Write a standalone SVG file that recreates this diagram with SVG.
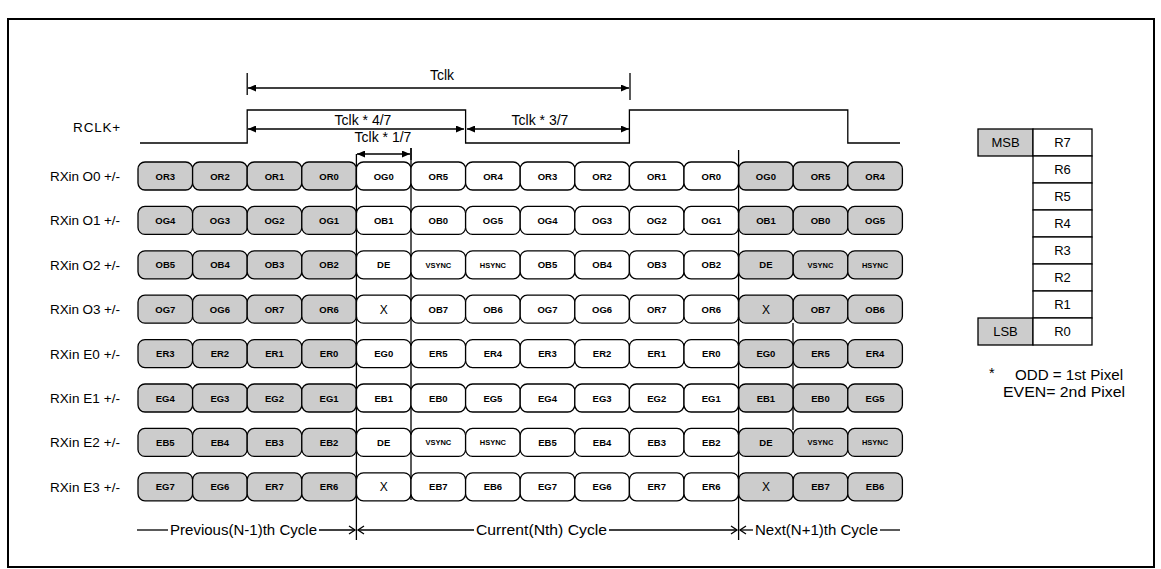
<svg xmlns="http://www.w3.org/2000/svg" width="1161" height="569" viewBox="0 0 1161 569">
<defs>
<style>
.s{fill:#cccccc;stroke:#000;stroke-width:1.3}
.w{fill:#fff;stroke:#000;stroke-width:1.3}
.t{font-family:"Liberation Sans",Arial,sans-serif;font-weight:bold;font-size:9.5px;text-anchor:middle;fill:#000}
.ts{font-family:"Liberation Sans",Arial,sans-serif;font-weight:bold;font-size:7.5px;text-anchor:middle;fill:#000}
.tx{font-family:"Liberation Sans",Arial,sans-serif;font-size:12px;text-anchor:middle;fill:#000}
.lbl{font-family:"Liberation Sans",Arial,sans-serif;font-size:13.5px;fill:#000}
.cy{font-family:"Liberation Sans",Arial,sans-serif;font-size:14.5px;fill:#000}
.tc{font-family:"Liberation Sans",Arial,sans-serif;font-size:14px;fill:#000;text-anchor:middle}
.ln{stroke:#000;stroke-width:1.3;fill:none}
.tb{fill:#fff;stroke:#000;stroke-width:1.3}
.tbs{fill:#cccccc;stroke:#000;stroke-width:1.3}
.tt{font-family:"Liberation Sans",Arial,sans-serif;font-size:13px;text-anchor:middle;fill:#000}
</style>
<marker id="ah" viewBox="0 0 8 7" refX="8" refY="3.5" markerWidth="8" markerHeight="7" markerUnits="userSpaceOnUse" orient="auto-start-reverse">
<path d="M0,0 L8,3.5 L0,7 z" fill="#000"/>
</marker>
</defs>
<rect x="8" y="19" width="1146" height="548" fill="#fff" stroke="#000" stroke-width="2"/>

<g id="connectors">
<line class="ln" x1="411" y1="148" x2="411" y2="500"/>
<line class="ln" x1="793" y1="323" x2="793" y2="430"/>
</g>

<g id="rclk">
<text class="lbl" x="121" y="131.5" font-size="14.5" letter-spacing="0.8" text-anchor="end">RCLK+</text>
<polyline class="ln" stroke-width="1.5" points="140,143 247.2,143 247.2,110 465.6,110 465.6,143 629.4,143 629.4,110 847.8,110 847.8,143 900,143"/>
</g>

<g id="timing">
<line class="ln" x1="247.2" y1="73" x2="247.2" y2="95"/>
<line class="ln" x1="630" y1="73" x2="630" y2="100"/>
<line class="ln" x1="248" y1="88" x2="629" y2="88" marker-start="url(#ah)" marker-end="url(#ah)"/>
<text class="tc" x="442" y="80">Tclk</text>
<line class="ln" x1="248" y1="129" x2="464" y2="129" marker-start="url(#ah)" marker-end="url(#ah)"/>
<text class="tc" x="363" y="125">Tclk * 4/7</text>
<line class="ln" x1="467" y1="129" x2="629" y2="129" marker-start="url(#ah)" marker-end="url(#ah)"/>
<text class="tc" x="540" y="125">Tclk * 3/7</text>
<text class="tc" x="383" y="142">Tclk * 1/7</text>
<line class="ln" x1="357" y1="154" x2="410" y2="154" marker-start="url(#ah)" marker-end="url(#ah)"/>
<line class="ln" x1="411" y1="148" x2="411" y2="160"/>
</g>

<g id="row-o0">
<text class="lbl" x="50" y="181" textLength="70" lengthAdjust="spacing">RXin O0 +/-</text>
<g transform="translate(0,162)">
<g id="o0-0"><rect class="s" x="138" width="54.6" height="28" rx="7"/><text class="t" x="165.3" y="17.5">OR3</text></g>
<g id="o0-1"><rect class="s" x="192.6" width="54.6" height="28" rx="7"/><text class="t" x="219.9" y="17.5">OR2</text></g>
<g id="o0-2"><rect class="s" x="247.2" width="54.6" height="28" rx="7"/><text class="t" x="274.5" y="17.5">OR1</text></g>
<g id="o0-3"><rect class="s" x="301.8" width="54.6" height="28" rx="7"/><text class="t" x="329.1" y="17.5">OR0</text></g>
<g id="o0-4"><rect class="w" x="356.4" width="54.6" height="28" rx="7"/><text class="t" x="383.7" y="17.5">OG0</text></g>
<g id="o0-5"><rect class="w" x="411" width="54.6" height="28" rx="7"/><text class="t" x="438.3" y="17.5">OR5</text></g>
<g id="o0-6"><rect class="w" x="465.6" width="54.6" height="28" rx="7"/><text class="t" x="492.9" y="17.5">OR4</text></g>
<g id="o0-7"><rect class="w" x="520.2" width="54.6" height="28" rx="7"/><text class="t" x="547.5" y="17.5">OR3</text></g>
<g id="o0-8"><rect class="w" x="574.8" width="54.6" height="28" rx="7"/><text class="t" x="602.1" y="17.5">OR2</text></g>
<g id="o0-9"><rect class="w" x="629.4" width="54.6" height="28" rx="7"/><text class="t" x="656.7" y="17.5">OR1</text></g>
<g id="o0-10"><rect class="w" x="684" width="54.6" height="28" rx="7"/><text class="t" x="711.3" y="17.5">OR0</text></g>
<g id="o0-11"><rect class="s" x="738.6" width="54.6" height="28" rx="7"/><text class="t" x="765.9" y="17.5">OG0</text></g>
<g id="o0-12"><rect class="s" x="793.2" width="54.6" height="28" rx="7"/><text class="t" x="820.5" y="17.5">OR5</text></g>
<g id="o0-13"><rect class="s" x="847.8" width="54.6" height="28" rx="7"/><text class="t" x="875.1" y="17.5">OR4</text></g>
</g></g>

<g id="row-o1">
<text class="lbl" x="50" y="225.4" textLength="70" lengthAdjust="spacing">RXin O1 +/-</text>
<g transform="translate(0,206.4)">
<g id="o1-0"><rect class="s" x="138" width="54.6" height="28" rx="7"/><text class="t" x="165.3" y="17.5">OG4</text></g>
<g id="o1-1"><rect class="s" x="192.6" width="54.6" height="28" rx="7"/><text class="t" x="219.9" y="17.5">OG3</text></g>
<g id="o1-2"><rect class="s" x="247.2" width="54.6" height="28" rx="7"/><text class="t" x="274.5" y="17.5">OG2</text></g>
<g id="o1-3"><rect class="s" x="301.8" width="54.6" height="28" rx="7"/><text class="t" x="329.1" y="17.5">OG1</text></g>
<g id="o1-4"><rect class="w" x="356.4" width="54.6" height="28" rx="7"/><text class="t" x="383.7" y="17.5">OB1</text></g>
<g id="o1-5"><rect class="w" x="411" width="54.6" height="28" rx="7"/><text class="t" x="438.3" y="17.5">OB0</text></g>
<g id="o1-6"><rect class="w" x="465.6" width="54.6" height="28" rx="7"/><text class="t" x="492.9" y="17.5">OG5</text></g>
<g id="o1-7"><rect class="w" x="520.2" width="54.6" height="28" rx="7"/><text class="t" x="547.5" y="17.5">OG4</text></g>
<g id="o1-8"><rect class="w" x="574.8" width="54.6" height="28" rx="7"/><text class="t" x="602.1" y="17.5">OG3</text></g>
<g id="o1-9"><rect class="w" x="629.4" width="54.6" height="28" rx="7"/><text class="t" x="656.7" y="17.5">OG2</text></g>
<g id="o1-10"><rect class="w" x="684" width="54.6" height="28" rx="7"/><text class="t" x="711.3" y="17.5">OG1</text></g>
<g id="o1-11"><rect class="s" x="738.6" width="54.6" height="28" rx="7"/><text class="t" x="765.9" y="17.5">OB1</text></g>
<g id="o1-12"><rect class="s" x="793.2" width="54.6" height="28" rx="7"/><text class="t" x="820.5" y="17.5">OB0</text></g>
<g id="o1-13"><rect class="s" x="847.8" width="54.6" height="28" rx="7"/><text class="t" x="875.1" y="17.5">OG5</text></g>
</g></g>

<g id="row-o2">
<text class="lbl" x="50" y="269.8" textLength="70" lengthAdjust="spacing">RXin O2 +/-</text>
<g transform="translate(0,250.8)">
<g id="o2-0"><rect class="s" x="138" width="54.6" height="28" rx="7"/><text class="t" x="165.3" y="17.5">OB5</text></g>
<g id="o2-1"><rect class="s" x="192.6" width="54.6" height="28" rx="7"/><text class="t" x="219.9" y="17.5">OB4</text></g>
<g id="o2-2"><rect class="s" x="247.2" width="54.6" height="28" rx="7"/><text class="t" x="274.5" y="17.5">OB3</text></g>
<g id="o2-3"><rect class="s" x="301.8" width="54.6" height="28" rx="7"/><text class="t" x="329.1" y="17.5">OB2</text></g>
<g id="o2-4"><rect class="w" x="356.4" width="54.6" height="28" rx="7"/><text class="t" x="383.7" y="17.5">DE</text></g>
<g id="o2-5"><rect class="w" x="411" width="54.6" height="28" rx="7"/><text class="ts" x="438.3" y="17">VSYNC</text></g>
<g id="o2-6"><rect class="w" x="465.6" width="54.6" height="28" rx="7"/><text class="ts" x="492.9" y="17">HSYNC</text></g>
<g id="o2-7"><rect class="w" x="520.2" width="54.6" height="28" rx="7"/><text class="t" x="547.5" y="17.5">OB5</text></g>
<g id="o2-8"><rect class="w" x="574.8" width="54.6" height="28" rx="7"/><text class="t" x="602.1" y="17.5">OB4</text></g>
<g id="o2-9"><rect class="w" x="629.4" width="54.6" height="28" rx="7"/><text class="t" x="656.7" y="17.5">OB3</text></g>
<g id="o2-10"><rect class="w" x="684" width="54.6" height="28" rx="7"/><text class="t" x="711.3" y="17.5">OB2</text></g>
<g id="o2-11"><rect class="s" x="738.6" width="54.6" height="28" rx="7"/><text class="t" x="765.9" y="17.5">DE</text></g>
<g id="o2-12"><rect class="s" x="793.2" width="54.6" height="28" rx="7"/><text class="ts" x="820.5" y="17">VSYNC</text></g>
<g id="o2-13"><rect class="s" x="847.8" width="54.6" height="28" rx="7"/><text class="ts" x="875.1" y="17">HSYNC</text></g>
</g></g>

<g id="row-o3">
<text class="lbl" x="50" y="314.2" textLength="70" lengthAdjust="spacing">RXin O3 +/-</text>
<g transform="translate(0,295.2)">
<g id="o3-0"><rect class="s" x="138" width="54.6" height="28" rx="7"/><text class="t" x="165.3" y="17.5">OG7</text></g>
<g id="o3-1"><rect class="s" x="192.6" width="54.6" height="28" rx="7"/><text class="t" x="219.9" y="17.5">OG6</text></g>
<g id="o3-2"><rect class="s" x="247.2" width="54.6" height="28" rx="7"/><text class="t" x="274.5" y="17.5">OR7</text></g>
<g id="o3-3"><rect class="s" x="301.8" width="54.6" height="28" rx="7"/><text class="t" x="329.1" y="17.5">OR6</text></g>
<g id="o3-4"><rect class="w" x="356.4" width="54.6" height="28" rx="7"/><text class="tx" x="383.7" y="18.5">X</text></g>
<g id="o3-5"><rect class="w" x="411" width="54.6" height="28" rx="7"/><text class="t" x="438.3" y="17.5">OB7</text></g>
<g id="o3-6"><rect class="w" x="465.6" width="54.6" height="28" rx="7"/><text class="t" x="492.9" y="17.5">OB6</text></g>
<g id="o3-7"><rect class="w" x="520.2" width="54.6" height="28" rx="7"/><text class="t" x="547.5" y="17.5">OG7</text></g>
<g id="o3-8"><rect class="w" x="574.8" width="54.6" height="28" rx="7"/><text class="t" x="602.1" y="17.5">OG6</text></g>
<g id="o3-9"><rect class="w" x="629.4" width="54.6" height="28" rx="7"/><text class="t" x="656.7" y="17.5">OR7</text></g>
<g id="o3-10"><rect class="w" x="684" width="54.6" height="28" rx="7"/><text class="t" x="711.3" y="17.5">OR6</text></g>
<g id="o3-11"><rect class="s" x="738.6" width="54.6" height="28" rx="7"/><text class="tx" x="765.9" y="18.5">X</text></g>
<g id="o3-12"><rect class="s" x="793.2" width="54.6" height="28" rx="7"/><text class="t" x="820.5" y="17.5">OB7</text></g>
<g id="o3-13"><rect class="s" x="847.8" width="54.6" height="28" rx="7"/><text class="t" x="875.1" y="17.5">OB6</text></g>
</g></g>

<g id="row-e0">
<text class="lbl" x="50" y="358.6" textLength="70" lengthAdjust="spacing">RXin E0 +/-</text>
<g transform="translate(0,339.6)">
<g id="e0-0"><rect class="s" x="138" width="54.6" height="28" rx="7"/><text class="t" x="165.3" y="17.5">ER3</text></g>
<g id="e0-1"><rect class="s" x="192.6" width="54.6" height="28" rx="7"/><text class="t" x="219.9" y="17.5">ER2</text></g>
<g id="e0-2"><rect class="s" x="247.2" width="54.6" height="28" rx="7"/><text class="t" x="274.5" y="17.5">ER1</text></g>
<g id="e0-3"><rect class="s" x="301.8" width="54.6" height="28" rx="7"/><text class="t" x="329.1" y="17.5">ER0</text></g>
<g id="e0-4"><rect class="w" x="356.4" width="54.6" height="28" rx="7"/><text class="t" x="383.7" y="17.5">EG0</text></g>
<g id="e0-5"><rect class="w" x="411" width="54.6" height="28" rx="7"/><text class="t" x="438.3" y="17.5">ER5</text></g>
<g id="e0-6"><rect class="w" x="465.6" width="54.6" height="28" rx="7"/><text class="t" x="492.9" y="17.5">ER4</text></g>
<g id="e0-7"><rect class="w" x="520.2" width="54.6" height="28" rx="7"/><text class="t" x="547.5" y="17.5">ER3</text></g>
<g id="e0-8"><rect class="w" x="574.8" width="54.6" height="28" rx="7"/><text class="t" x="602.1" y="17.5">ER2</text></g>
<g id="e0-9"><rect class="w" x="629.4" width="54.6" height="28" rx="7"/><text class="t" x="656.7" y="17.5">ER1</text></g>
<g id="e0-10"><rect class="w" x="684" width="54.6" height="28" rx="7"/><text class="t" x="711.3" y="17.5">ER0</text></g>
<g id="e0-11"><rect class="s" x="738.6" width="54.6" height="28" rx="7"/><text class="t" x="765.9" y="17.5">EG0</text></g>
<g id="e0-12"><rect class="s" x="793.2" width="54.6" height="28" rx="7"/><text class="t" x="820.5" y="17.5">ER5</text></g>
<g id="e0-13"><rect class="s" x="847.8" width="54.6" height="28" rx="7"/><text class="t" x="875.1" y="17.5">ER4</text></g>
</g></g>

<g id="row-e1">
<text class="lbl" x="50" y="403" textLength="70" lengthAdjust="spacing">RXin E1 +/-</text>
<g transform="translate(0,384)">
<g id="e1-0"><rect class="s" x="138" width="54.6" height="28" rx="7"/><text class="t" x="165.3" y="17.5">EG4</text></g>
<g id="e1-1"><rect class="s" x="192.6" width="54.6" height="28" rx="7"/><text class="t" x="219.9" y="17.5">EG3</text></g>
<g id="e1-2"><rect class="s" x="247.2" width="54.6" height="28" rx="7"/><text class="t" x="274.5" y="17.5">EG2</text></g>
<g id="e1-3"><rect class="s" x="301.8" width="54.6" height="28" rx="7"/><text class="t" x="329.1" y="17.5">EG1</text></g>
<g id="e1-4"><rect class="w" x="356.4" width="54.6" height="28" rx="7"/><text class="t" x="383.7" y="17.5">EB1</text></g>
<g id="e1-5"><rect class="w" x="411" width="54.6" height="28" rx="7"/><text class="t" x="438.3" y="17.5">EB0</text></g>
<g id="e1-6"><rect class="w" x="465.6" width="54.6" height="28" rx="7"/><text class="t" x="492.9" y="17.5">EG5</text></g>
<g id="e1-7"><rect class="w" x="520.2" width="54.6" height="28" rx="7"/><text class="t" x="547.5" y="17.5">EG4</text></g>
<g id="e1-8"><rect class="w" x="574.8" width="54.6" height="28" rx="7"/><text class="t" x="602.1" y="17.5">EG3</text></g>
<g id="e1-9"><rect class="w" x="629.4" width="54.6" height="28" rx="7"/><text class="t" x="656.7" y="17.5">EG2</text></g>
<g id="e1-10"><rect class="w" x="684" width="54.6" height="28" rx="7"/><text class="t" x="711.3" y="17.5">EG1</text></g>
<g id="e1-11"><rect class="s" x="738.6" width="54.6" height="28" rx="7"/><text class="t" x="765.9" y="17.5">EB1</text></g>
<g id="e1-12"><rect class="s" x="793.2" width="54.6" height="28" rx="7"/><text class="t" x="820.5" y="17.5">EB0</text></g>
<g id="e1-13"><rect class="s" x="847.8" width="54.6" height="28" rx="7"/><text class="t" x="875.1" y="17.5">EG5</text></g>
</g></g>

<g id="row-e2">
<text class="lbl" x="50" y="447.4" textLength="70" lengthAdjust="spacing">RXin E2 +/-</text>
<g transform="translate(0,428.4)">
<g id="e2-0"><rect class="s" x="138" width="54.6" height="28" rx="7"/><text class="t" x="165.3" y="17.5">EB5</text></g>
<g id="e2-1"><rect class="s" x="192.6" width="54.6" height="28" rx="7"/><text class="t" x="219.9" y="17.5">EB4</text></g>
<g id="e2-2"><rect class="s" x="247.2" width="54.6" height="28" rx="7"/><text class="t" x="274.5" y="17.5">EB3</text></g>
<g id="e2-3"><rect class="s" x="301.8" width="54.6" height="28" rx="7"/><text class="t" x="329.1" y="17.5">EB2</text></g>
<g id="e2-4"><rect class="w" x="356.4" width="54.6" height="28" rx="7"/><text class="t" x="383.7" y="17.5">DE</text></g>
<g id="e2-5"><rect class="w" x="411" width="54.6" height="28" rx="7"/><text class="ts" x="438.3" y="17">VSYNC</text></g>
<g id="e2-6"><rect class="w" x="465.6" width="54.6" height="28" rx="7"/><text class="ts" x="492.9" y="17">HSYNC</text></g>
<g id="e2-7"><rect class="w" x="520.2" width="54.6" height="28" rx="7"/><text class="t" x="547.5" y="17.5">EB5</text></g>
<g id="e2-8"><rect class="w" x="574.8" width="54.6" height="28" rx="7"/><text class="t" x="602.1" y="17.5">EB4</text></g>
<g id="e2-9"><rect class="w" x="629.4" width="54.6" height="28" rx="7"/><text class="t" x="656.7" y="17.5">EB3</text></g>
<g id="e2-10"><rect class="w" x="684" width="54.6" height="28" rx="7"/><text class="t" x="711.3" y="17.5">EB2</text></g>
<g id="e2-11"><rect class="s" x="738.6" width="54.6" height="28" rx="7"/><text class="t" x="765.9" y="17.5">DE</text></g>
<g id="e2-12"><rect class="s" x="793.2" width="54.6" height="28" rx="7"/><text class="ts" x="820.5" y="17">VSYNC</text></g>
<g id="e2-13"><rect class="s" x="847.8" width="54.6" height="28" rx="7"/><text class="ts" x="875.1" y="17">HSYNC</text></g>
</g></g>

<g id="row-e3">
<text class="lbl" x="50" y="491.8" textLength="70" lengthAdjust="spacing">RXin E3 +/-</text>
<g transform="translate(0,472.8)">
<g id="e3-0"><rect class="s" x="138" width="54.6" height="28" rx="7"/><text class="t" x="165.3" y="17.5">EG7</text></g>
<g id="e3-1"><rect class="s" x="192.6" width="54.6" height="28" rx="7"/><text class="t" x="219.9" y="17.5">EG6</text></g>
<g id="e3-2"><rect class="s" x="247.2" width="54.6" height="28" rx="7"/><text class="t" x="274.5" y="17.5">ER7</text></g>
<g id="e3-3"><rect class="s" x="301.8" width="54.6" height="28" rx="7"/><text class="t" x="329.1" y="17.5">ER6</text></g>
<g id="e3-4"><rect class="w" x="356.4" width="54.6" height="28" rx="7"/><text class="tx" x="383.7" y="18.5">X</text></g>
<g id="e3-5"><rect class="w" x="411" width="54.6" height="28" rx="7"/><text class="t" x="438.3" y="17.5">EB7</text></g>
<g id="e3-6"><rect class="w" x="465.6" width="54.6" height="28" rx="7"/><text class="t" x="492.9" y="17.5">EB6</text></g>
<g id="e3-7"><rect class="w" x="520.2" width="54.6" height="28" rx="7"/><text class="t" x="547.5" y="17.5">EG7</text></g>
<g id="e3-8"><rect class="w" x="574.8" width="54.6" height="28" rx="7"/><text class="t" x="602.1" y="17.5">EG6</text></g>
<g id="e3-9"><rect class="w" x="629.4" width="54.6" height="28" rx="7"/><text class="t" x="656.7" y="17.5">ER7</text></g>
<g id="e3-10"><rect class="w" x="684" width="54.6" height="28" rx="7"/><text class="t" x="711.3" y="17.5">ER6</text></g>
<g id="e3-11"><rect class="s" x="738.6" width="54.6" height="28" rx="7"/><text class="tx" x="765.9" y="18.5">X</text></g>
<g id="e3-12"><rect class="s" x="793.2" width="54.6" height="28" rx="7"/><text class="t" x="820.5" y="17.5">EB7</text></g>
<g id="e3-13"><rect class="s" x="847.8" width="54.6" height="28" rx="7"/><text class="t" x="875.1" y="17.5">EB6</text></g>
</g></g>

<g id="cycle-boundaries">
<line class="ln" x1="356.4" y1="154" x2="356.4" y2="540"/>
<line class="ln" x1="738.6" y1="150" x2="738.6" y2="540"/>
</g>

<g id="cycles">
<line class="ln" x1="137" y1="530" x2="168" y2="530"/>
<text class="cy" x="170" y="535" textLength="147" lengthAdjust="spacingAndGlyphs">Previous(N-1)th Cycle</text>
<line class="ln" x1="319" y1="530" x2="355" y2="530"/>
<polyline class="ln" points="349,526 355,530 349,534"/>
<polyline class="ln" points="364,526 358,530 364,534"/>
<line class="ln" x1="358" y1="530" x2="474" y2="530"/>
<text class="cy" x="476" y="535" textLength="131" lengthAdjust="spacingAndGlyphs">Current(Nth) Cycle</text>
<line class="ln" x1="609" y1="530" x2="737" y2="530"/>
<polyline class="ln" points="731,526 737,530 731,534"/>
<polyline class="ln" points="746,526 740,530 746,534"/>
<line class="ln" x1="740" y1="530" x2="753" y2="530"/>
<text class="cy" x="755" y="535" textLength="123" lengthAdjust="spacingAndGlyphs">Next(N+1)th Cycle</text>
<line class="ln" x1="880" y1="530" x2="900" y2="530"/>
</g>

<g id="bit-table">
<rect class="tbs" x="978" y="129" width="55" height="27"/><text class="tt" x="1005.5" y="147">MSB</text>
<rect class="tbs" x="978" y="318" width="55" height="27"/><text class="tt" x="1005.5" y="336">LSB</text>
<rect class="tb" x="1033" y="129" width="59" height="27"/><text class="tt" x="1062.5" y="147">R7</text>
<rect class="tb" x="1033" y="156" width="59" height="27"/><text class="tt" x="1062.5" y="174">R6</text>
<rect class="tb" x="1033" y="183" width="59" height="27"/><text class="tt" x="1062.5" y="201">R5</text>
<rect class="tb" x="1033" y="210" width="59" height="27"/><text class="tt" x="1062.5" y="228">R4</text>
<rect class="tb" x="1033" y="237" width="59" height="27"/><text class="tt" x="1062.5" y="255">R3</text>
<rect class="tb" x="1033" y="264" width="59" height="27"/><text class="tt" x="1062.5" y="282">R2</text>
<rect class="tb" x="1033" y="291" width="59" height="27"/><text class="tt" x="1062.5" y="309">R1</text>
<rect class="tb" x="1033" y="318" width="59" height="27"/><text class="tt" x="1062.5" y="336">R0</text>
</g>

<g id="note">
<text class="cy" x="989" y="378">*</text>
<text class="cy" x="1015" y="380" textLength="108" lengthAdjust="spacingAndGlyphs">ODD = 1st Pixel</text>
<text class="cy" x="1003" y="397" textLength="122" lengthAdjust="spacingAndGlyphs">EVEN= 2nd Pixel</text>
</g>
</svg>
